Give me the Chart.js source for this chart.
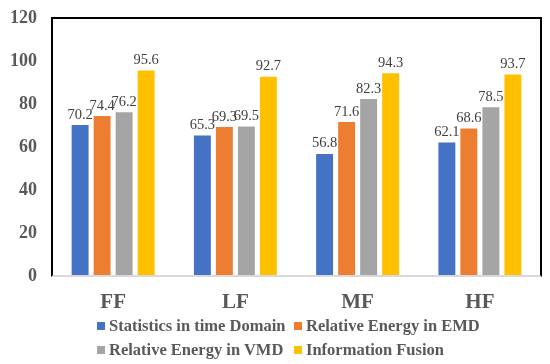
<!DOCTYPE html>
<html>
<head>
<meta charset="utf-8">
<script src="https://cdn.jsdelivr.net/npm/chart.js@4/dist/chart.umd.min.js"></script>
<style>
  html, body { margin: 0; padding: 0; background: #fff; }
  #wrap { position: relative; width: 550px; height: 364px; }
  #legend { position: absolute; left: 0; top: 0; width: 550px; height: 364px; pointer-events: none; }
  #frameBox { position: absolute; box-sizing: border-box; border-top: 2px solid #000; border-left: 2px solid #000; border-right: 2px solid #000; border-bottom: 2px solid #d9d9d9; pointer-events: none; }
  .li { position: absolute; display: flex; align-items: center; font-family: 'Liberation Serif', 'Times New Roman', serif; font-weight: bold; font-size: 16.5px; color: #595959; white-space: nowrap; line-height: 1; }
  .li span.box { display: inline-block; width: 8px; height: 8px; margin-right: 4px; }
</style>
</head>
<body>
<div id="wrap">
  <canvas id="c" width="550" height="364"></canvas>
  <div id="frameBox"></div>
  <div id="legend"></div>
</div>
<script>
const categories = ['FF', 'LF', 'MF', 'HF'];
const seriesNames = ['Statistics in time Domain', 'Relative Energy in EMD', 'Relative Energy in VMD', 'Information Fusion'];
const statsTime = [70.2, 65.3, 56.8, 62.1];
const energyEMD = [74.4, 69.3, 71.6, 68.6];
const energyVMD = [76.2, 69.5, 82.3, 78.5];
const infoFusion = [95.6, 92.7, 94.3, 93.7];
const yTicks = [0, 20, 40, 60, 80, 100, 120];
const colors = ['#4472C4', '#ED7D31', '#A5A5A5', '#FFC000'];

const seriesValues = [statsTime, energyEMD, energyVMD, infoFusion];
const FONT = "'Liberation Serif', 'Times New Roman', serif";

const valueLabels = {
  id: 'valueLabels',
  afterDatasetsDraw(chart) {
    const ctx = chart.ctx;
    ctx.save();
    ctx.font = '14.5px ' + FONT;
    ctx.fillStyle = '#404040';
    ctx.textAlign = 'center';
    ctx.textBaseline = 'bottom';
    chart.data.datasets.forEach((ds, i) => {
      const meta = chart.getDatasetMeta(i);
      meta.data.forEach((bar, j) => {
        ctx.fillText(ds.data[j].toFixed(1), bar.x, bar.y - 3);
      });
    });
    ctx.restore();
  }
};

const chart = new Chart(document.getElementById('c'), {
  type: 'bar',
  data: {
    labels: categories,
    datasets: seriesNames.map((n, i) => ({
      label: n,
      data: seriesValues[i],
      backgroundColor: colors[i],
      borderWidth: 0,
      categoryPercentage: 0.72,
      barPercentage: 0.77
    }))
  },
  options: {
    responsive: false,
    animation: false,
    layout: { padding: { left: 0, top: 18, right: 9, bottom: 0 } },
    plugins: { legend: { display: false }, tooltip: { enabled: false } },
    scales: {
      x: {
        grid: { display: false, drawTicks: false },
        border: { display: false },
        ticks: { color: '#595959', font: { family: FONT, size: 21, weight: 'bold' }, padding: 14 },
        afterFit(s) { s.height = 88; s.paddingLeft = 0; s.paddingRight = 0; }
      },
      y: {
        min: 0, max: 120,
        afterBuildTicks(s) { s.ticks = yTicks.map(v => ({ value: v })); },
        grid: { display: false, drawTicks: false },
        border: { display: false },
        ticks: { color: '#595959', font: { family: FONT, size: 18, weight: 'bold' }, padding: 15 },
        afterFit(s) { s.width = 52; s.paddingTop = 0; s.paddingBottom = 0; }
      }
    }
  },
  plugins: [valueLabels]
});

const a = chart.chartArea;
const fb = document.getElementById('frameBox');
fb.style.left = (a.left - 1) + 'px';
fb.style.top = (a.top - 1) + 'px';
fb.style.width = (a.right - a.left + 2) + 'px';
fb.style.height = (a.bottom - a.top + 2) + 'px';

const legend = document.getElementById('legend');
const pos = [[97, 326], [294, 326], [97, 350], [294, 350]];
seriesNames.forEach((n, i) => {
  const d = document.createElement('div');
  d.className = 'li';
  d.style.left = pos[i][0] + 'px';
  d.style.top = (pos[i][1] - 8) + 'px';
  d.style.height = '16px';
  const b = document.createElement('span');
  b.className = 'box';
  b.style.background = colors[i];
  d.appendChild(b);
  d.appendChild(document.createTextNode(n));
  legend.appendChild(d);
});
</script>
</body>
</html>
